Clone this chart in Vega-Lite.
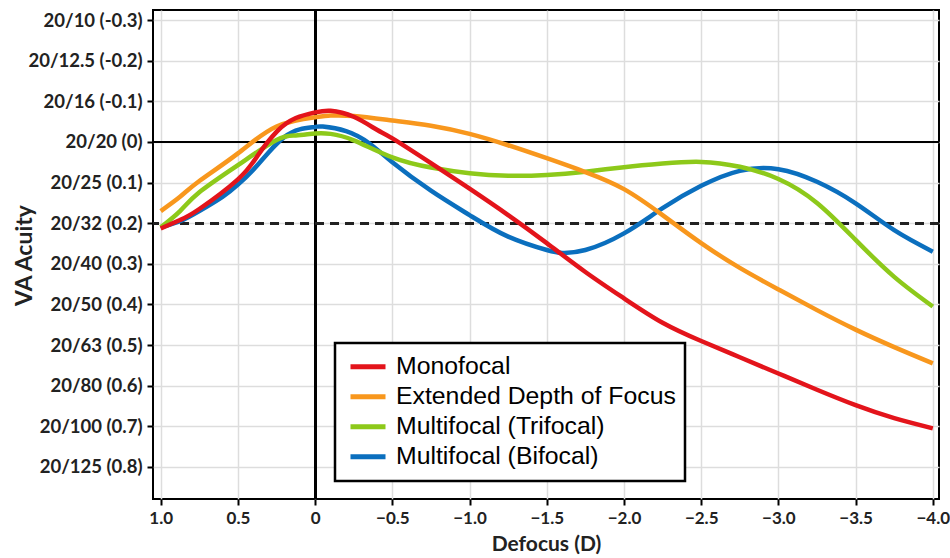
{
  "$schema": "https://vega.github.io/schema/vega-lite/v6.json",
  "width": 786,
  "height": 489,
  "autosize": {"type": "none"},
  "padding": {"left": 153, "top": 10, "right": 11, "bottom": 59},
  "background": "white",
  "config": {
    "view": {"stroke": "black", "strokeWidth": 2},
    "axis": {
      "domain": false,
      "grid": true,
      "gridColor": "#dddddd",
      "gridWidth": 1.5,
      "ticks": true,
      "tickColor": "black",
      "tickSize": 6,
      "tickWidth": 2,
      "labelFont": "Lato",
      "labelFontSize": 18,
      "labelFontWeight": "bold",
      "labelColor": "#222222",
      "titleFont": "Lato",
      "titleFontSize": 23,
      "titleFontWeight": "bold",
      "titleColor": "#222222"
    }
  },
  "data": {
    "values": [
      {"lens": "Multifocal (Bifocal)", "d": 1.0, "va": 0.21},
      {"lens": "Multifocal (Bifocal)", "d": 0.875, "va": 0.195},
      {"lens": "Multifocal (Bifocal)", "d": 0.75, "va": 0.17},
      {"lens": "Multifocal (Bifocal)", "d": 0.6, "va": 0.135},
      {"lens": "Multifocal (Bifocal)", "d": 0.5, "va": 0.105},
      {"lens": "Multifocal (Bifocal)", "d": 0.4, "va": 0.068},
      {"lens": "Multifocal (Bifocal)", "d": 0.3, "va": 0.025},
      {"lens": "Multifocal (Bifocal)", "d": 0.2, "va": -0.012},
      {"lens": "Multifocal (Bifocal)", "d": 0.1, "va": -0.031},
      {"lens": "Multifocal (Bifocal)", "d": 0.0, "va": -0.037},
      {"lens": "Multifocal (Bifocal)", "d": -0.05, "va": -0.038},
      {"lens": "Multifocal (Bifocal)", "d": -0.2, "va": -0.027},
      {"lens": "Multifocal (Bifocal)", "d": -0.35, "va": 0.003},
      {"lens": "Multifocal (Bifocal)", "d": -0.5, "va": 0.05},
      {"lens": "Multifocal (Bifocal)", "d": -0.75, "va": 0.12},
      {"lens": "Multifocal (Bifocal)", "d": -1.0, "va": 0.18},
      {"lens": "Multifocal (Bifocal)", "d": -1.25, "va": 0.233},
      {"lens": "Multifocal (Bifocal)", "d": -1.5, "va": 0.266},
      {"lens": "Multifocal (Bifocal)", "d": -1.6, "va": 0.273},
      {"lens": "Multifocal (Bifocal)", "d": -1.75, "va": 0.266},
      {"lens": "Multifocal (Bifocal)", "d": -2.0, "va": 0.225},
      {"lens": "Multifocal (Bifocal)", "d": -2.25, "va": 0.163},
      {"lens": "Multifocal (Bifocal)", "d": -2.5, "va": 0.108},
      {"lens": "Multifocal (Bifocal)", "d": -2.75, "va": 0.071},
      {"lens": "Multifocal (Bifocal)", "d": -3.0, "va": 0.067},
      {"lens": "Multifocal (Bifocal)", "d": -3.25, "va": 0.098},
      {"lens": "Multifocal (Bifocal)", "d": -3.5, "va": 0.151},
      {"lens": "Multifocal (Bifocal)", "d": -3.75, "va": 0.217},
      {"lens": "Multifocal (Bifocal)", "d": -4.0, "va": 0.27},
      {"lens": "Multifocal (Trifocal)", "d": 1.0, "va": 0.21},
      {"lens": "Multifocal (Trifocal)", "d": 0.875, "va": 0.17},
      {"lens": "Multifocal (Trifocal)", "d": 0.75, "va": 0.124},
      {"lens": "Multifocal (Trifocal)", "d": 0.5, "va": 0.057},
      {"lens": "Multifocal (Trifocal)", "d": 0.25, "va": -0.005},
      {"lens": "Multifocal (Trifocal)", "d": 0.125, "va": -0.016},
      {"lens": "Multifocal (Trifocal)", "d": 0.0, "va": -0.021},
      {"lens": "Multifocal (Trifocal)", "d": -0.1, "va": -0.02},
      {"lens": "Multifocal (Trifocal)", "d": -0.25, "va": -0.004},
      {"lens": "Multifocal (Trifocal)", "d": -0.5, "va": 0.038},
      {"lens": "Multifocal (Trifocal)", "d": -0.75, "va": 0.063},
      {"lens": "Multifocal (Trifocal)", "d": -1.0, "va": 0.077},
      {"lens": "Multifocal (Trifocal)", "d": -1.25, "va": 0.083},
      {"lens": "Multifocal (Trifocal)", "d": -1.5, "va": 0.081},
      {"lens": "Multifocal (Trifocal)", "d": -1.75, "va": 0.073},
      {"lens": "Multifocal (Trifocal)", "d": -2.0, "va": 0.062},
      {"lens": "Multifocal (Trifocal)", "d": -2.25, "va": 0.053},
      {"lens": "Multifocal (Trifocal)", "d": -2.5, "va": 0.049},
      {"lens": "Multifocal (Trifocal)", "d": -2.75, "va": 0.061},
      {"lens": "Multifocal (Trifocal)", "d": -3.0, "va": 0.091},
      {"lens": "Multifocal (Trifocal)", "d": -3.25, "va": 0.15},
      {"lens": "Multifocal (Trifocal)", "d": -3.5, "va": 0.241},
      {"lens": "Multifocal (Trifocal)", "d": -3.75, "va": 0.332},
      {"lens": "Multifocal (Trifocal)", "d": -4.0, "va": 0.405},
      {"lens": "Extended Depth of Focus", "d": 1.0, "va": 0.17},
      {"lens": "Extended Depth of Focus", "d": 0.875, "va": 0.135},
      {"lens": "Extended Depth of Focus", "d": 0.75, "va": 0.096},
      {"lens": "Extended Depth of Focus", "d": 0.5, "va": 0.028},
      {"lens": "Extended Depth of Focus", "d": 0.25, "va": -0.038},
      {"lens": "Extended Depth of Focus", "d": 0.0, "va": -0.061},
      {"lens": "Extended Depth of Focus", "d": -0.1, "va": -0.065},
      {"lens": "Extended Depth of Focus", "d": -0.25, "va": -0.064},
      {"lens": "Extended Depth of Focus", "d": -0.5, "va": -0.053},
      {"lens": "Extended Depth of Focus", "d": -0.75, "va": -0.04},
      {"lens": "Extended Depth of Focus", "d": -1.0, "va": -0.02},
      {"lens": "Extended Depth of Focus", "d": -1.25, "va": 0.008},
      {"lens": "Extended Depth of Focus", "d": -1.5, "va": 0.04},
      {"lens": "Extended Depth of Focus", "d": -1.75, "va": 0.074},
      {"lens": "Extended Depth of Focus", "d": -2.0, "va": 0.116},
      {"lens": "Extended Depth of Focus", "d": -2.25, "va": 0.18},
      {"lens": "Extended Depth of Focus", "d": -2.5, "va": 0.249},
      {"lens": "Extended Depth of Focus", "d": -2.75, "va": 0.31},
      {"lens": "Extended Depth of Focus", "d": -3.0, "va": 0.363},
      {"lens": "Extended Depth of Focus", "d": -3.25, "va": 0.414},
      {"lens": "Extended Depth of Focus", "d": -3.5, "va": 0.462},
      {"lens": "Extended Depth of Focus", "d": -3.75, "va": 0.505},
      {"lens": "Extended Depth of Focus", "d": -4.0, "va": 0.545},
      {"lens": "Monofocal", "d": 1.0, "va": 0.213},
      {"lens": "Monofocal", "d": 0.875, "va": 0.192},
      {"lens": "Monofocal", "d": 0.75, "va": 0.165},
      {"lens": "Monofocal", "d": 0.5, "va": 0.092},
      {"lens": "Monofocal", "d": 0.375, "va": 0.035},
      {"lens": "Monofocal", "d": 0.25, "va": -0.025},
      {"lens": "Monofocal", "d": 0.125, "va": -0.059},
      {"lens": "Monofocal", "d": 0.0, "va": -0.073},
      {"lens": "Monofocal", "d": -0.1, "va": -0.077},
      {"lens": "Monofocal", "d": -0.25, "va": -0.062},
      {"lens": "Monofocal", "d": -0.4, "va": -0.03},
      {"lens": "Monofocal", "d": -0.5, "va": -0.009},
      {"lens": "Monofocal", "d": -0.75, "va": 0.052},
      {"lens": "Monofocal", "d": -1.0, "va": 0.115},
      {"lens": "Monofocal", "d": -1.25, "va": 0.18},
      {"lens": "Monofocal", "d": -1.5, "va": 0.249},
      {"lens": "Monofocal", "d": -1.75, "va": 0.32},
      {"lens": "Monofocal", "d": -2.0, "va": 0.385},
      {"lens": "Monofocal", "d": -2.25, "va": 0.445},
      {"lens": "Monofocal", "d": -2.5, "va": 0.49},
      {"lens": "Monofocal", "d": -2.75, "va": 0.53},
      {"lens": "Monofocal", "d": -3.0, "va": 0.57},
      {"lens": "Monofocal", "d": -3.25, "va": 0.61},
      {"lens": "Monofocal", "d": -3.5, "va": 0.648},
      {"lens": "Monofocal", "d": -3.75, "va": 0.68},
      {"lens": "Monofocal", "d": -4.0, "va": 0.705}
    ]
  },
  "layer": [
    {
      "mark": {"type": "rule", "color": "black", "strokeWidth": 2},
      "encoding": {"y": {"datum": 0, "type": "quantitative"}}
    },
    {
      "mark": {"type": "rule", "color": "black", "strokeWidth": 2},
      "encoding": {"x": {"datum": 0, "type": "quantitative"}}
    },
    {
      "mark": {"type": "rule", "color": "#222222", "strokeWidth": 2, "strokeDash": [9, 6]},
      "encoding": {"y": {"datum": 0.2, "type": "quantitative"}}
    },
    {
      "mark": {"type": "line", "strokeWidth": 4.5, "interpolate": "natural"},
      "encoding": {
        "x": {
          "field": "d",
          "type": "quantitative",
          "scale": {"domain": [-4.04, 1.05], "reverse": true, "nice": false, "zero": false},
          "axis": {
            "values": [1, 0.5, 0, -0.5, -1, -1.5, -2, -2.5, -3, -3.5, -4],
            "labelExpr": "datum.value == 0 ? '0' : format(datum.value, '.1f')",
            "labelFontSize": 17,
            "labelPadding": 5,
            "title": "Defocus (D)",
            "titleFontSize": 21,
            "titleY": 45,
            "titleBaseline": "middle"
          }
        },
        "y": {
          "field": "va",
          "type": "quantitative",
          "scale": {"domain": [-0.325, 0.879], "reverse": true, "nice": false, "zero": false},
          "axis": {
            "values": [-0.3, -0.2, -0.1, 0, 0.1, 0.2, 0.3, 0.4, 0.5, 0.6, 0.7, 0.8],
            "labelExpr": "['20/10 (-0.3)','20/12.5 (-0.2)','20/16 (-0.1)','20/20 (0)','20/25 (0.1)','20/32 (0.2)','20/40 (0.3)','20/50 (0.4)','20/63 (0.5)','20/80 (0.6)','20/100 (0.7)','20/125 (0.8)'][round(datum.value*10)+3]",
            "labelFontSize": 18.5,
            "labelPadding": 5,
            "title": "VA Acuity",
            "titleX": -129,
            "titleY": 245,
            "titleAngle": -90,
            "titleAlign": "center",
            "titleBaseline": "middle"
          }
        },
        "order": {"field": "d", "sort": "descending"},
        "color": {
          "field": "lens",
          "type": "nominal",
          "scale": {
            "domain": ["Monofocal", "Extended Depth of Focus", "Multifocal (Trifocal)", "Multifocal (Bifocal)"],
            "range": ["#e3141b", "#f8971d", "#8dc91a", "#0b6fbe"]
          },
          "legend": {
            "orient": "none",
            "legendX": 182,
            "legendY": 333,
            "title": null,
            "symbolType": "stroke",
            "symbolSize": 1225,
            "symbolStrokeWidth": 5,
            "labelFont": "Liberation Sans",
            "labelFontSize": 24.8,
            "labelColor": "black",
            "labelLimit": 500,
            "labelOffset": 8,
            "fillColor": "white",
            "strokeColor": "black",
            "padding": 9,
            "rowPadding": 0,
            "clipHeight": 29.3,
            "symbolOffset": 4,
            "encode": {"legend": {"update": {"strokeWidth": {"value": 2.5}}}}
          }
        }
      }
    }
  ]
}
